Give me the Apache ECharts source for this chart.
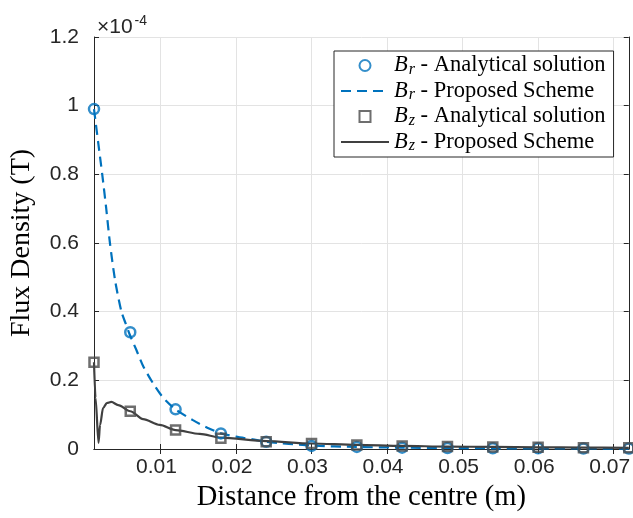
<!DOCTYPE html>
<html><head><meta charset="utf-8">
<script src="https://cdn.jsdelivr.net/npm/echarts@6/dist/echarts.min.js"></script>
<style>html,body{margin:0;padding:0;background:#fff}#c{width:633px;height:518px}</style>
</head><body><div id="c"></div>
<script>
// values in units of 1e-4 T
const markerX = [0.0012, 0.006, 0.012, 0.018, 0.024, 0.030, 0.036, 0.042, 0.048, 0.054, 0.060, 0.066, 0.072];
const brAnalytical = [0.99, 0.34, 0.1155, 0.0455, 0.021, 0.009, 0.006, 0.004, 0.003, 0.002, 0.002, 0.0015, 0.0012];
const bzAnalytical = [0.2525, 0.110, 0.055, 0.031, 0.021, 0.016, 0.012, 0.009, 0.007, 0.006, 0.005, 0.004, 0.0035];
const brSchemeX = [0.0012, 0.00177, 0.00229, 0.00282, 0.00331, 0.0040, 0.00483, 0.0054, 0.0059, 0.0068, 0.0077, 0.009, 0.0103, 0.012, 0.0143, 0.0162, 0.018, 0.020, 0.0222, 0.024, 0.030, 0.036, 0.042, 0.048, 0.054, 0.060, 0.066, 0.072];
const brSchemeY = [0.99, 0.89, 0.80, 0.70, 0.60, 0.49, 0.40, 0.365, 0.335, 0.289, 0.242, 0.192, 0.151, 0.1155, 0.084, 0.062, 0.0455, 0.036, 0.028, 0.021, 0.010, 0.006, 0.004, 0.003, 0.002, 0.0018, 0.0015, 0.0012];
const bzSchemeX = [0.0012, 0.0014, 0.0018, 0.0020, 0.0024, 0.0029, 0.0035, 0.0044, 0.006, 0.0077, 0.0099, 0.012, 0.0152, 0.018, 0.024, 0.030, 0.036, 0.042, 0.048, 0.054, 0.060, 0.066, 0.072];
const bzSchemeY = [0.2525, 0.15, 0.018, 0.07, 0.119, 0.134, 0.137, 0.128, 0.110, 0.087, 0.070, 0.055, 0.044, 0.033, 0.023, 0.016, 0.012, 0.009, 0.007, 0.006, 0.005, 0.004, 0.0035];
const xTicks = [0.01, 0.02, 0.03, 0.04, 0.05, 0.06, 0.07];
const xLabels = ['0.01', '0.02', '0.03', '0.04', '0.05', '0.06', '0.07'];
const yLabels = ['0', '0.2', '0.4', '0.6', '0.8', '1', '1.2'];

const zip = (xs, ys) => xs.map((x, i) => [x, ys[i]]);
const BLUE = '#0072BD', GRAY = '#404040', AX = '#262626', SQ = '#4a4a4a';
const legendText = {
  'Br-A': '{i|B}{s|r}{t| - Analytical solution}',
  'Br-P': '{i|B}{s|r}{t| - Proposed Scheme}',
  'Bz-A': '{i|B}{s|z}{t| - Analytical solution}',
  'Bz-P': '{i|B}{s|z}{t| - Proposed Scheme}'
};
const serif = 'Liberation Serif';
const sans = 'Liberation Sans';

const chart = echarts.init(document.getElementById('c'));
const commonX = { type: 'value', min: 0.0012, max: 0.072 };
chart.setOption({
  animation: false,
  backgroundColor: '#fff',
  title: {
    left: 92, top: 9,
    text: '{a|×10}{b|-4}',
    textStyle: { fontWeight: 'normal', rich: {
      a: { fontFamily: sans, fontSize: 21, fontWeight: 'normal', color: AX },
      b: { fontFamily: sans, fontSize: 14, fontWeight: 'normal', color: AX, padding: [0, 0, 12, 2] }
    } }
  },
  grid: { left: 91, right: 4, top: 37, bottom: 69, containLabel: false },
  legend: {
    left: 334, top: 51, orient: 'vertical',
    itemWidth: 48, itemHeight: 11, itemGap: 2,
    padding: [3, 8, 3, 6],
    borderColor: AX, borderWidth: 1, backgroundColor: '#fff',
    data: [
      { name: 'Br-A' },
      { name: 'Br-P', itemStyle: { opacity: 0 } },
      { name: 'Bz-A', icon: 'path://M0,0L10,0L10,10L0,10Z' },
      { name: 'Bz-P', itemStyle: { opacity: 0 } }
    ],
    formatter: n => legendText[n],
    textStyle: {
      fontFamily: serif, fontSize: 22.5, color: '#000',
      rich: {
        i: { fontFamily: serif, fontSize: 22.5, fontStyle: 'italic', color: '#000' },
        s: { fontFamily: serif, fontSize: 16, fontStyle: 'italic', color: '#000', padding: [8, 0, 0, 1] },
        t: { fontFamily: serif, fontSize: 22.5, color: '#000' }
      }
    }
  },
  xAxis: [
    Object.assign({}, commonX, {
      position: 'bottom',
      name: 'Distance from the centre (m)', nameLocation: 'middle', nameGap: 34,
      nameTextStyle: { fontFamily: serif, fontSize: 28.5, color: '#000' },
      axisLine: { show: true, lineStyle: { color: AX, width: 1 } },
      axisTick: { show: true, inside: true, length: 5, customValues: xTicks, lineStyle: { color: AX } },
      axisLabel: { show: true, customValues: xTicks, margin: 8, padding: [0, 8, 0, 0], fontFamily: sans, fontSize: 21, color: AX,
        formatter: v => xLabels[xTicks.findIndex(t => Math.abs(t - v) < 1e-9)] || '' },
      splitLine: { show: true, lineStyle: { color: '#e3e3e3', width: 1 } }
    }),
    Object.assign({}, commonX, {
      position: 'top',
      axisLine: { show: true, lineStyle: { color: AX, width: 1 } },
      axisTick: { show: true, inside: true, length: 5, customValues: xTicks, lineStyle: { color: AX } },
      axisLabel: { show: false, customValues: xTicks },
      splitLine: { show: false }
    })
  ],
  yAxis: [
    {
      type: 'value', min: 0, max: 1.2, interval: 0.2, position: 'left',
      name: 'Flux Density (T)', nameLocation: 'middle', nameGap: 58,
      nameTextStyle: { fontFamily: serif, fontSize: 28, color: '#000' },
      axisLine: { show: true, lineStyle: { color: AX, width: 1 } },
      axisTick: { show: true, inside: true, length: 5, lineStyle: { color: AX } },
      axisLabel: { margin: 15, fontFamily: sans, fontSize: 21, color: AX,
        formatter: v => yLabels[Math.round(v / 0.2)] },
      splitLine: { show: true, lineStyle: { color: '#e3e3e3', width: 1 } }
    },
    {
      type: 'value', min: 0, max: 1.2, interval: 0.2, position: 'right',
      axisLine: { show: true, lineStyle: { color: AX, width: 1 } },
      axisTick: { show: true, inside: true, length: 5, lineStyle: { color: AX } },
      axisLabel: { show: false },
      splitLine: { show: false }
    }
  ],
  series: [
    {
      name: 'Br-P', type: 'line', data: zip(brSchemeX, brSchemeY),
      symbol: 'none', smooth: 0.25,
      lineStyle: { color: BLUE, width: 2.2, type: [10, 6] }, itemStyle: { color: BLUE }, z: 2
    },
    {
      name: 'Bz-P', type: 'line', data: zip(bzSchemeX, bzSchemeY),
      symbol: 'none', smooth: 0.3, smoothMonotone: 'x',
      lineStyle: { color: GRAY, width: 2.2 }, itemStyle: { color: GRAY }, z: 3
    },
    {
      name: 'Br-A', type: 'scatter', data: zip(markerX, brAnalytical),
      symbol: 'circle', symbolSize: 10,
      itemStyle: { color: 'rgba(255,255,255,0)', borderColor: BLUE, borderWidth: 2.5 }, z: 4
    },
    {
      name: 'Bz-A', type: 'scatter', data: zip(markerX, bzAnalytical),
      symbol: 'rect', symbolSize: 9,
      itemStyle: { color: 'rgba(255,255,255,0)', borderColor: SQ, borderWidth: 2.5 }, z: 5
    }
  ]
});
</script></body></html>
